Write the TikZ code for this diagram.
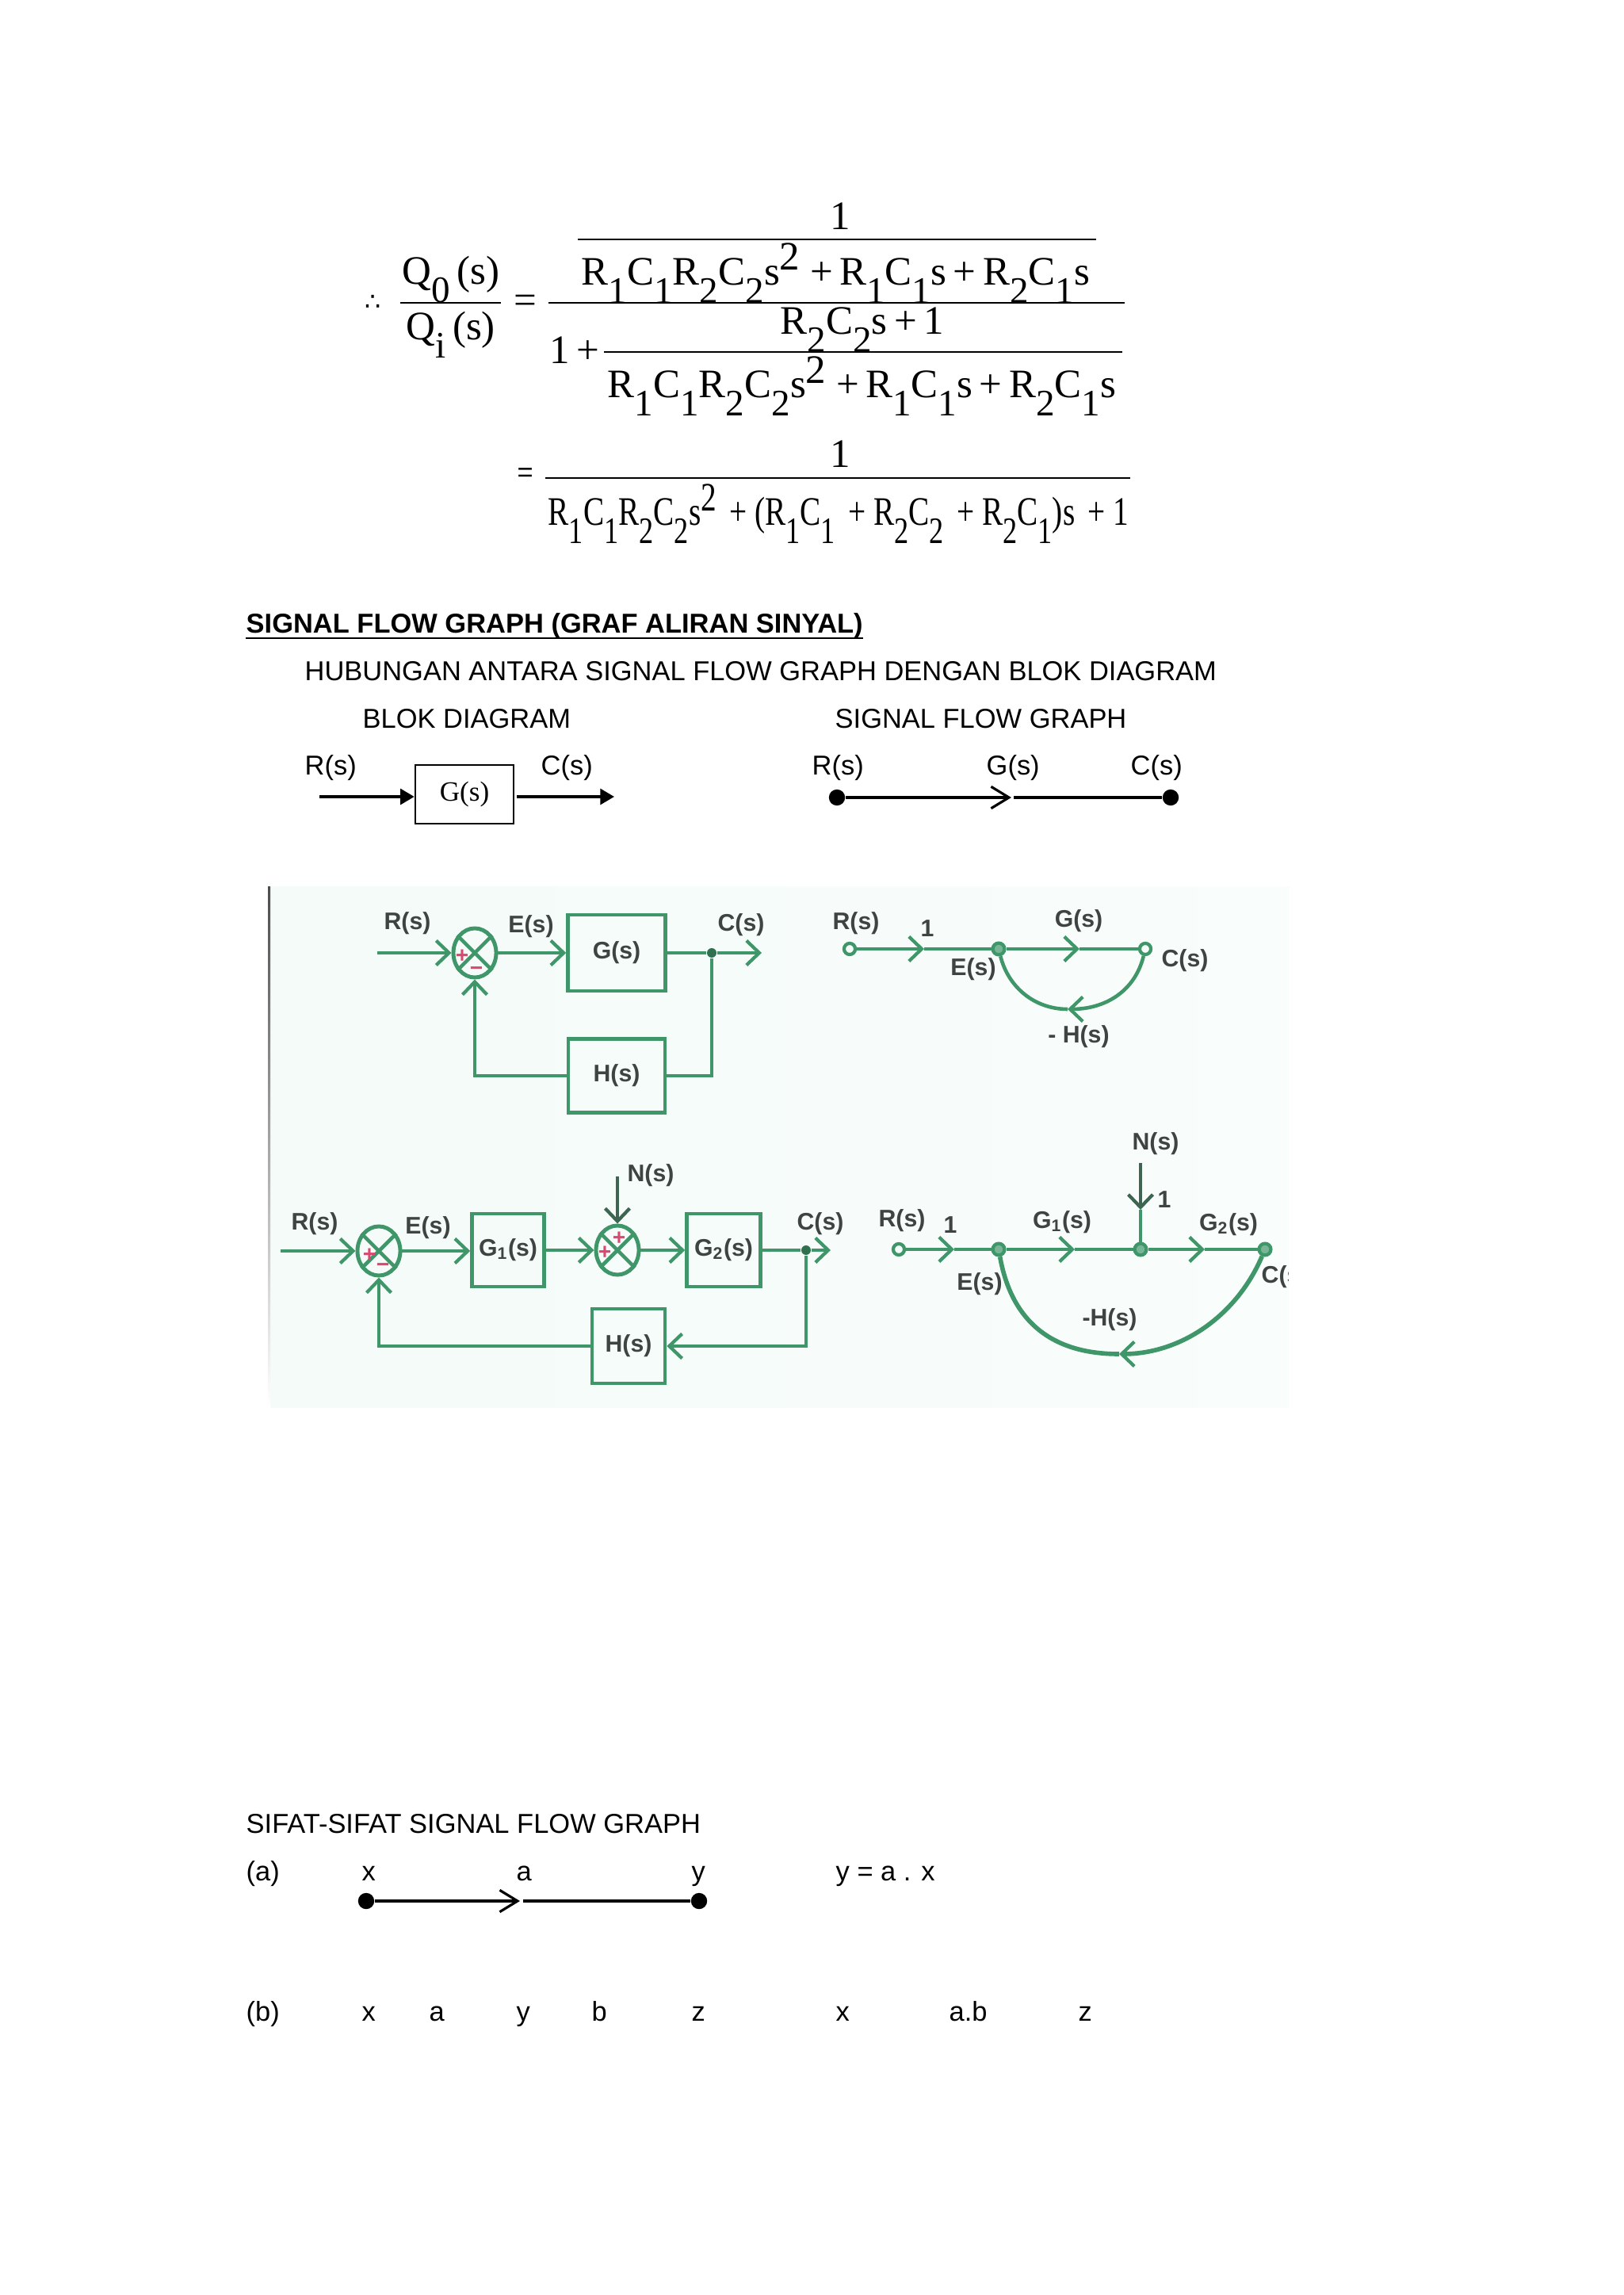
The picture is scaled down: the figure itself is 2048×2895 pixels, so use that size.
\documentclass[tikz,border=0pt]{standalone}
\usepackage{fontspec}
\setmainfont{Liberation Sans}
\newfontfamily\eqfont{Liberation Serif}
\newfontfamily\symfont{DejaVu Sans}
\usetikzlibrary{arrows.meta,shapes.geometric}
\definecolor{leaf}{RGB}{62,150,105}
\definecolor{mint}{RGB}{244,251,248}
\definecolor{pencil}{RGB}{62,68,66}
\definecolor{blush}{RGB}{218,72,112}
\newcommand{\dn}[1]{\raisebox{-6.4pt}{\fontsize{13.4}{15}\selectfont #1}}
\newcommand{\up}[1]{\raisebox{5.4pt}{#1}}
\tikzset{
  txt/.style={anchor=base west,inner sep=0pt,font=\fontsize{9.8}{12}\selectfont},
  eq/.style={anchor=base west,inner sep=0pt,font=\eqfont\fontsize{14.5}{16}\selectfont},
  bar/.style={draw=black,line width=#1},
  bar/.default=0.5pt,
  dot/.style={circle,fill=black,inner sep=0pt,minimum size=5.8pt},
  blockbox/.style={draw=black,line width=0.7pt,inner sep=0pt,minimum width=1.24cm,minimum height=.74cm,font=\eqfont\fontsize{10}{12}\selectfont},
  line/.style={draw=black,line width=1pt},
  tri/.style={line,-{Triangle[length=5pt,width=5.6pt]}},
  barb/.style={line,-{Straight Barb[length=6.4pt,width=7.8pt,line width=0.9pt]}},
  hand/.style={inner sep=0pt,text=pencil,font=\fontsize{8.6}{10}\selectfont\bfseries},
  gline/.style={draw=leaf,line width=1.3pt},
  gbarb/.style={gline,-{Straight Barb[length=4.6pt,width=8.8pt,line width=1.2pt]}},
  gbox/.style={draw=leaf,line width=1.3pt,inner sep=0pt,hand,minimum width=#1},
  summer/.style={ellipse,draw=leaf,line width=1.4pt,inner sep=0pt,minimum width=.54cm,minimum height=.62cm},
  sign/.style={inner sep=0pt,text=blush,font=\fontsize{8}{9}\selectfont\bfseries},
  jn/.style={circle,fill=leaf!75!black,inner sep=0pt,minimum size=3.4pt},
  ring/.style={circle,draw=leaf,fill=mint,line width=1.2pt,inner sep=0pt,minimum size=4pt},
  fullring/.style={circle,draw=leaf,fill=leaf!70,line width=1.2pt,inner sep=0pt,minimum size=4.2pt},
}
\begin{document}
\begin{tikzpicture}[x=0.01cm,y=-0.01cm]
\useasboundingbox (0,0) rectangle (2048,2895);
% equation
\node[eq,font=\symfont\fontsize{9}{10}\selectfont] (th) at (460,392) {∴};
\node[eq] (qo) at (507,359) {Q\dn{0}\,(s)};
\node[eq] (qi) at (512,429) {Q\dn{i}\,(s)};
\node[eq] (eqa) at (648,396) {=};
\node[eq] (one) at (1047,290) {1};
\node[eq] (na) at (733,360) {R\dn{1}C\dn{1}R\dn{2}C\dn{2}s\up{2} +\,R\dn{1}C\dn{1}s\,+\,R\dn{2}C\dn{1}s};
\node[eq] (nb) at (984,422) {R\dn{2}C\dn{2}s\,+\,1};
\node[eq] (on) at (693,459) {1\,+};
\node[eq] (nc) at (766,502) {R\dn{1}C\dn{1}R\dn{2}C\dn{2}s\up{2} +\,R\dn{1}C\dn{1}s\,+\,R\dn{2}C\dn{1}s};
\node[txt] (eqb) at (652,608) {=};
\node[eq] (oneb) at (1047,590) {1};
\node[eq] (nd) at (691,663) {\scalebox{.77}[1]{R\dn{1}C\dn{1}R\dn{2}C\dn{2}s\up{2}\, + (R\dn{1}C\dn{1}\, + R\dn{2}C\dn{2}\, + R\dn{2}C\dn{1})s\, + 1}};
\draw[bar] (505,382) -- (632,382);
\draw[bar] (692,382) -- (1419,382);
\draw[bar=0.3pt] (729,302) -- (1383,302);
\draw[bar=0.3pt] (762,444) -- (1416,444);
\draw[bar] (688,603) -- (1426,603);
% headings
\node[txt,font=\fontsize{9.8}{12}\selectfont\bfseries] (title) at (310,799) {SIGNAL FLOW GRAPH (GRAF ALIRAN SINYAL)};
\draw[bar=0.8pt] (310,805) -- (1089,805);
\node[txt] (sub) at (384,859) {HUBUNGAN ANTARA SIGNAL FLOW GRAPH DENGAN BLOK DIAGRAM};
\node[txt] (bd) at (457,919) {BLOK DIAGRAM};
\node[txt] (sf) at (1053,919) {SIGNAL FLOW GRAPH};
% block and graph
\node[txt] (rb) at (384,978) {R(s)};
\node[txt] (cb) at (682,978) {C(s)};
\node[txt] (rg) at (1024,978) {R(s)};
\node[txt] (gg) at (1244,978) {G(s)};
\node[txt] (cg) at (1426,978) {C(s)};
\node[blockbox] (gs) at (586,1002) {G(s)};
\coordinate (in) at (403,1005);
\coordinate (oc) at (652,1005);
\coordinate (out) at (775,1005);
\draw[tri] (in) -- (in -| gs.west);
\draw[tri] (oc) -- (out);
\node[dot] (ra) at (1056,1006) {};
\node[dot] (ca) at (1477,1006) {};
\coordinate (ma) at (1276,1006);
\coordinate (mb) at (1279,1006);
\draw[barb] (ra) -- (ma);
\draw[line] (mb) -- (ca);
% green panel
\shade[left color=mint,right color=mint!55] (339,1118) rectangle (1627,1775);
\shade[top color=black!70,bottom color=white] (338,1118) rectangle (341,1775);
\begin{scope}
\clip (339,1118) rectangle (1625,1775);
% first block diagram
\node[summer] (sa) at (599,1202) {};
\draw[gline] (sa.45) -- (sa.225) (sa.135) -- (sa.-45);
\node[sign] (pa) at (583,1206) {+};
\node[sign] (ma1) at (601,1225) {−};
\node[gbox=1.23cm,minimum height=.96cm] (g) at (778,1202) {G(s)};
\node[gbox=1.22cm,minimum height=.93cm] (h) at (778,1357) {H(s)};
\node[jn] (ja) at (898,1202) {};
\coordinate (ia) at (476,1202);
\coordinate (oa) at (961,1202);
\draw[gbarb] (ia) -- (sa);
\draw[gbarb] (sa) -- (g);
\draw[gline] (g) -- (ja);
\draw[gbarb] (ja) -- (oa);
\draw[gline] (ja) |- (h);
\draw[gbarb] (h) -| (sa);
\node[hand] (lra) at (514,1165) {R(s)};
\node[hand] (lea) at (670,1169) {E(s)};
\node[hand] (lca) at (935,1167) {C(s)};
% second block diagram
\node[summer] (sb) at (478,1578) {};
\draw[gline] (sb.45) -- (sb.225) (sb.135) -- (sb.-45);
\node[sign] (pb) at (466,1583) {+};
\node[sign] (mb1) at (483,1599) {−};
\node[summer] (sc) at (779,1577) {};
\draw[gline] (sc.45) -- (sc.225) (sc.135) -- (sc.-45);
\node[sign] (pc) at (781,1562) {+};
\node[sign] (pd) at (763,1580) {+};
\node[gbox=.91cm,minimum height=.92cm] (ga) at (641,1577) {G\textsubscript{1}(s)};
\node[gbox=.93cm,minimum height=.92cm] (gb) at (913,1577) {G\textsubscript{2}(s)};
\node[gbox=.92cm,minimum height=.94cm] (hb) at (793,1698) {H(s)};
\node[jn] (jb) at (1017,1577) {};
\coordinate (ib) at (354,1578);
\coordinate (ob) at (1048,1577);
\coordinate (nt) at (779,1484);
\draw[gbarb] (ib) -- (sb);
\draw[gbarb] (sb) -- (ga.west |- sb);
\draw[gbarb] (ga) -- (sc);
\draw[gbarb] (sc) -- (gb);
\draw[gline] (gb) -- (jb);
\draw[gbarb] (jb) -- (ob);
\draw[gbarb] (jb) |- (hb);
\draw[gbarb] (hb) -| (sb);
\draw[gbarb,draw=pencil!60!leaf] (nt) -- (sc);
\node[hand] (lrb) at (397,1544) {R(s)};
\node[hand] (leb) at (540,1549) {E(s)};
\node[hand] (lnb) at (821,1483) {N(s)};
\node[hand] (lcb) at (1035,1544) {C(s)};
% first graph
\node[ring] (rc) at (1072,1197) {};
\node[fullring] (ec) at (1260,1197) {};
\node[ring] (cc) at (1445,1197) {};
\coordinate (tc) at (1166,1197);
\coordinate (td) at (1362,1197);
\coordinate (te) at (1347,1273);
\draw[gbarb] (rc) -- (tc);
\draw[gline] (tc) -- (ec);
\draw[gbarb] (ec) -- (td);
\draw[gline] (td) -- (cc);
\draw[gbarb] (cc) .. controls (1432,1250) and (1395,1273) .. (te);
\draw[gline] (te) .. controls (1305,1273) and (1272,1245) .. (ec);
\node[hand] (lrc) at (1080,1165) {R(s)};
\node[hand] (lo) at (1170,1171) {1};
\node[hand] (lec) at (1228,1223) {E(s)};
\node[hand] (lgc) at (1361,1162) {G(s)};
\node[hand] (lcc) at (1495,1212) {C(s)};
\node[hand] (lhc) at (1361,1308) {- H(s)};
% second graph
\node[ring] (rd) at (1134,1576) {};
\node[fullring] (ed) at (1260,1576) {};
\node[fullring] (nd2) at (1439,1576) {};
\node[fullring] (cd) at (1596,1576) {};
\coordinate (t1) at (1204,1576);
\coordinate (t2) at (1356,1576);
\coordinate (t3) at (1520,1576);
\coordinate (t4) at (1412,1708);
\coordinate (nu) at (1439,1467);
\coordinate (t5) at (1439,1526);
\draw[gbarb] (rd) -- (t1);
\draw[gline] (t1) -- (ed);
\draw[gbarb] (ed) -- (t2);
\draw[gline] (t2) -- (nd2);
\draw[gbarb] (nd2) -- (t3);
\draw[gline] (t3) -- (cd);
\draw[gbarb,draw=pencil!60!leaf] (nu) -- (t5);
\draw[gline] (t5) -- (nd2);
\draw[gbarb,line width=1.6pt] (cd) .. controls (1560,1660) and (1490,1708) .. (t4);
\draw[gline,line width=1.6pt] (t4) .. controls (1320,1708) and (1275,1660) .. (ed);
\node[hand] (lrd) at (1138,1540) {R(s)};
\node[hand] (lod) at (1199,1545) {1};
\node[hand] (led) at (1236,1620) {E(s)};
\node[hand] (lgd) at (1340,1542) {G\textsubscript{1}(s)};
\node[hand] (lnd) at (1458,1443) {N(s)};
\node[hand] (lne) at (1469,1513) {1};
\node[hand] (lge) at (1550,1545) {G\textsubscript{2}(s)};
\node[hand,anchor=west] (lcd) at (1591,1611) {C(s)};
\node[hand] (lhd) at (1400,1665) {-H(s)};
\end{scope}
% properties
\node[txt] (prop) at (310,2312) {SIFAT-SIFAT SIGNAL FLOW GRAPH};
\node[txt] (pa1) at (310,2372) {(a)};
\node[txt] (xa) at (456,2372) {x};
\node[txt] (aa) at (651,2372) {a};
\node[txt] (ya) at (872,2372) {y};
\node[txt] (fa) at (1054,2372) {y = a . x};
\node[dot] (xd) at (462,2398) {};
\node[dot] (yd) at (882,2398) {};
\coordinate (mc) at (656,2398);
\coordinate (md) at (660,2398);
\draw[barb] (xd) -- (mc);
\draw[line] (md) -- (yd);
\node[txt] (pb1) at (310,2549) {(b)};
\foreach \t/\x/\n in {x/456/xb,a/541/ab,y/651/yb,b/746/bb,z/872/zb,x/1054/xc,a.b/1197/abc,z/1360/zc}
  \node[txt] (\n) at (\x,2549) {\t};
\end{tikzpicture}
\end{document}
